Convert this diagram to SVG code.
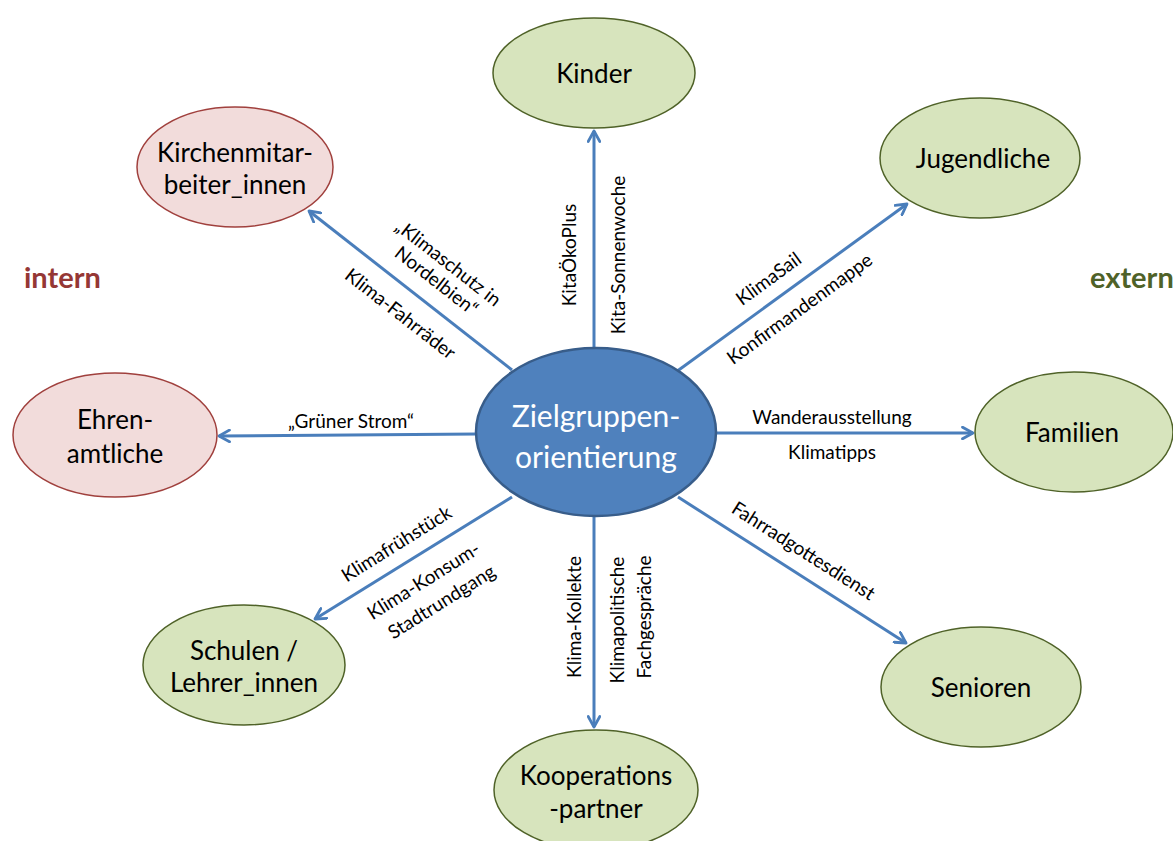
<svg xmlns="http://www.w3.org/2000/svg" width="1173" height="841" viewBox="0 0 1173 841">
<style>
text{font-family:Lato,"Open Sans","Liberation Sans",sans-serif;fill:#000;text-anchor:middle;dominant-baseline:central}
.ext{fill:#D7E4BD;stroke:#4F6228;stroke-width:1.5}
.int{fill:#F2DCDB;stroke:#A0403D;stroke-width:1.5}
.ctr{fill:#4F81BD;stroke:#385D8A;stroke-width:2.5}
.nl{font-size:26px}
.el{font-size:19px}
.arr{stroke:#4A7EBB;stroke-width:3;fill:none;marker-end:url(#ah)}
</style>
<defs>
<marker id="ah" viewBox="0 0 12 12" refX="10" refY="6" markerWidth="14" markerHeight="14" markerUnits="userSpaceOnUse" orient="auto">
<path d="M1,1 L10,6 L1,11" fill="none" stroke="#4A7EBB" stroke-width="2.4" stroke-linecap="round" stroke-linejoin="round"/>
</marker>
</defs>
<rect width="1173" height="841" fill="#fff"/>
<g id="connectors">
<line class="arr" x1="594" y1="350" x2="594" y2="131"/>
<line class="arr" x1="512" y1="370" x2="309" y2="211"/>
<line class="arr" x1="676" y1="372" x2="907" y2="204"/>
<line class="arr" x1="477" y1="434" x2="219" y2="436"/>
<line class="arr" x1="715" y1="433" x2="973" y2="433"/>
<line class="arr" x1="512" y1="497" x2="315" y2="619"/>
<line class="arr" x1="594" y1="513" x2="594" y2="727"/>
<line class="arr" x1="678" y1="497" x2="906" y2="643"/>
<text class="el" transform="translate(568,255) rotate(-90)">KitaÖkoPlus</text>
<text class="el" transform="translate(617,255) rotate(-90)">Kita-Sonnenwoche</text>
<text class="el" transform="translate(449,262) rotate(38)">„Klimaschutz in</text>
<text class="el" transform="translate(437,280) rotate(38)">Nordelbien“</text>
<text class="el" transform="translate(401,313) rotate(38)">Klima-Fahrräder</text>
<text class="el" transform="translate(768,278) rotate(-36)">KlimaSail</text>
<text class="el" transform="translate(799,308) rotate(-36)">Konfirmandenmappe</text>
<text class="el" x="351" y="420">„Grüner Strom“</text>
<text class="el" x="832" y="416">Wanderausstellung</text>
<text class="el" x="832" y="451">Klimatipps</text>
<text class="el" transform="translate(396,543) rotate(-32)">Klimafrühstück</text>
<text class="el" transform="translate(423,580) rotate(-32)">Klima-Konsum-</text>
<text class="el" transform="translate(441,601) rotate(-32)">Stadtrundgang</text>
<text class="el" transform="translate(573,617) rotate(-90)">Klima-Kollekte</text>
<text class="el" transform="translate(616,620) rotate(-90)">Klimapolitische</text>
<text class="el" transform="translate(643,617) rotate(-90)">Fachgespräche</text>
<text class="el" transform="translate(804,550) rotate(32.5)">Fahrradgottesdienst</text>
</g>
<g id="center">
<ellipse class="ctr" cx="596" cy="432" rx="120" ry="84"/>
<text x="596" y="415" style="fill:#fff;font-size:30px">Zielgruppen-</text>
<text x="596" y="456" style="fill:#fff;font-size:30px">orientierung</text>
</g>
<g id="kinder"><ellipse class="ext" cx="594" cy="73" rx="101" ry="55"/><text class="nl" x="594" y="73">Kinder</text></g>
<g id="jugendliche"><ellipse class="ext" cx="980" cy="158" rx="100" ry="60"/><text class="nl" x="983" y="158">Jugendliche</text></g>
<g id="familien"><ellipse class="ext" cx="1074" cy="432" rx="99" ry="60"/><text class="nl" x="1072" y="432">Familien</text></g>
<g id="senioren"><ellipse class="ext" cx="981" cy="687" rx="100" ry="60"/><text class="nl" x="981" y="687">Senioren</text></g>
<g id="kooperation"><ellipse class="ext" cx="596" cy="790" rx="102" ry="60"/><text class="nl" x="596" y="775">Kooperations</text><text class="nl" x="596" y="808">-partner</text></g>
<g id="schulen"><ellipse class="ext" cx="244" cy="665" rx="101" ry="60"/><text class="nl" x="244" y="650">Schulen /</text><text class="nl" x="244" y="682">Lehrer_innen</text></g>
<g id="ehrenamtliche"><ellipse class="int" cx="115" cy="435" rx="102" ry="62"/><text class="nl" x="115" y="419">Ehren-</text><text class="nl" x="115" y="453">amtliche</text></g>
<g id="kirchenmitarbeiter"><ellipse class="int" cx="235" cy="167" rx="98" ry="60"/><text class="nl" x="235" y="152">Kirchenmitar-</text><text class="nl" x="235" y="184">beiter_innen</text></g>
<g id="labels">
<text x="24" y="276" style="font-size:29px;font-weight:bold;fill:#953735;text-anchor:start">intern</text>
<text x="1090" y="276" style="font-size:29px;font-weight:bold;fill:#4F6228;text-anchor:start">extern</text>
</g>
</svg>
